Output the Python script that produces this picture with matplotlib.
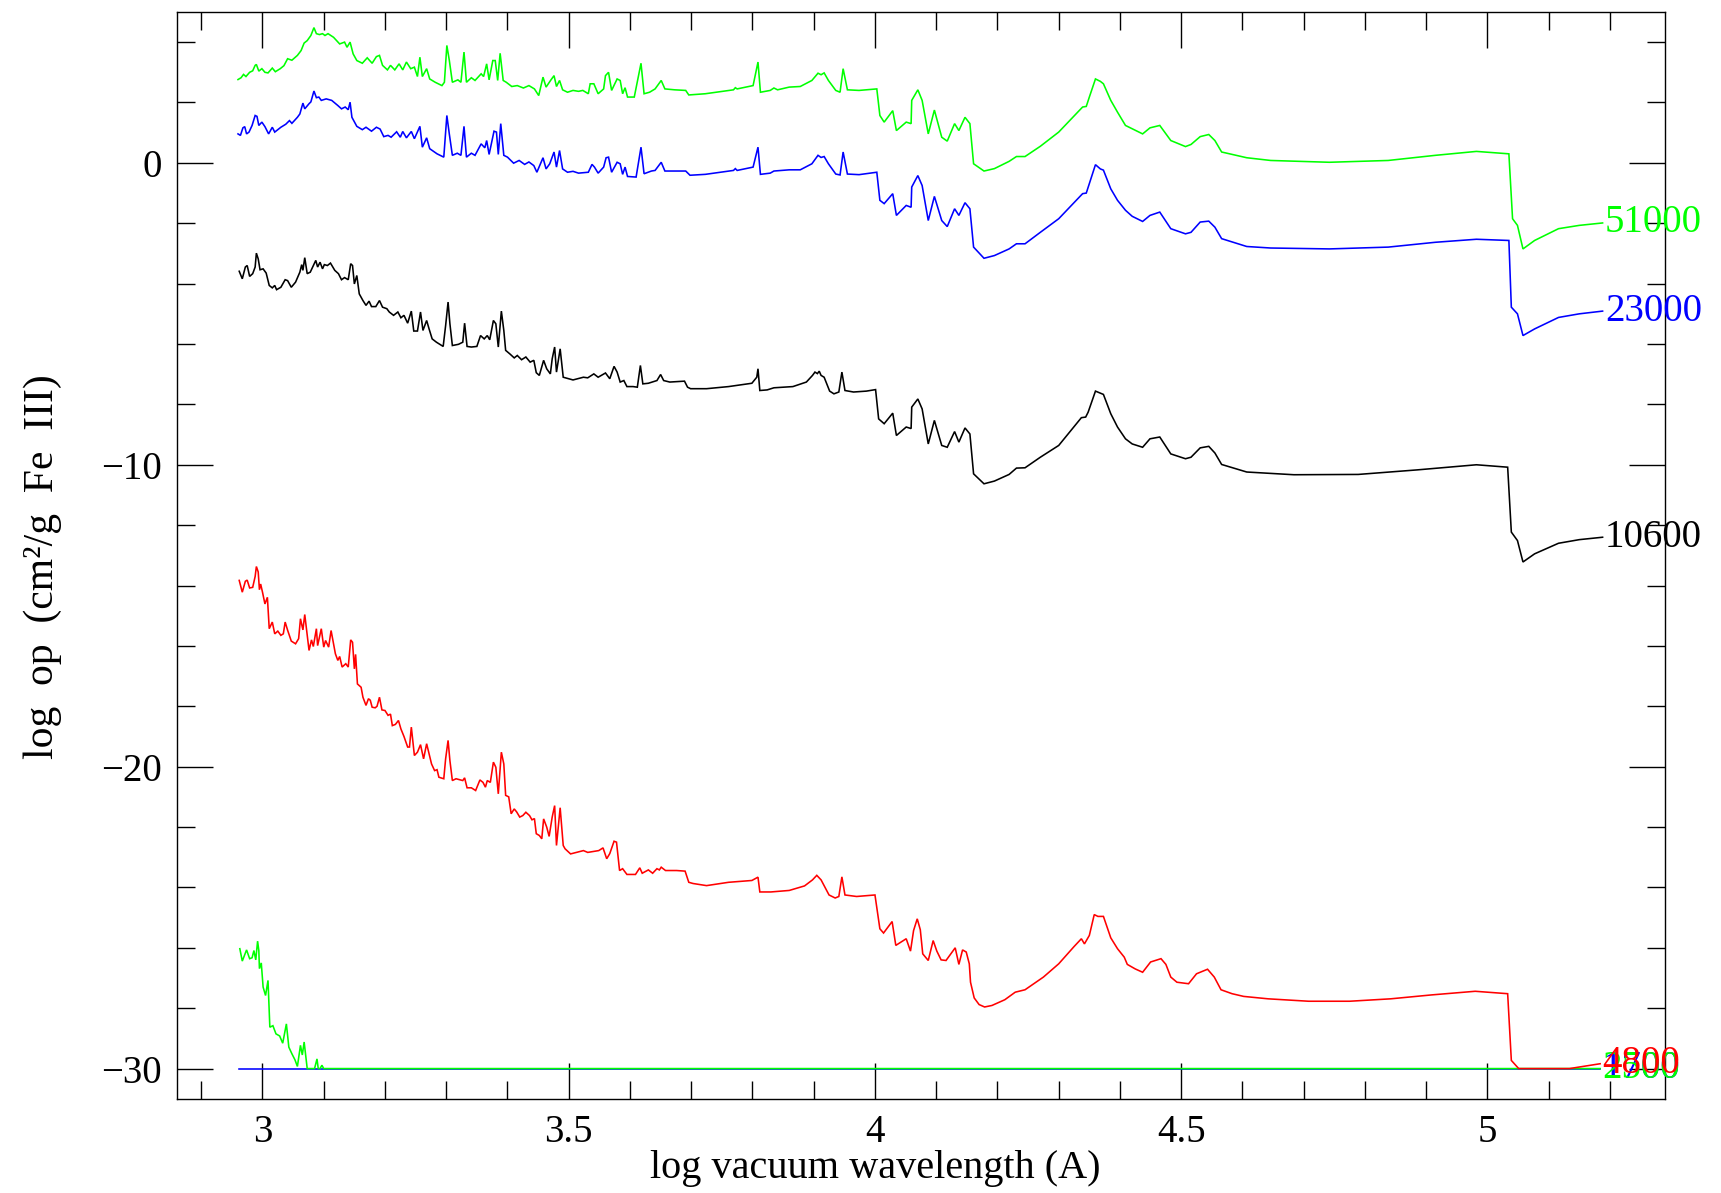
import matplotlib
matplotlib.use("Agg")
import matplotlib.pyplot as plt
from matplotlib.ticker import MultipleLocator

plt.rcParams['font.family'] = ['Liberation Serif', 'DejaVu Serif']

# ---------------- data (log wavelength, log opacity) ----------------
wl_51000 = [2.960, 2.965, 2.969, 2.973, 2.979, 2.984, 2.988, 2.990, 2.994, 2.999, 3.004, 3.009, 3.016, 3.021,
            3.029, 3.035, 3.041, 3.048, 3.057, 3.063, 3.068, 3.073, 3.079, 3.084, 3.088, 3.093, 3.098, 3.102,
            3.107, 3.116, 3.121, 3.126, 3.134, 3.138, 3.143, 3.148, 3.154, 3.163, 3.171, 3.179, 3.186, 3.191,
            3.196, 3.204, 3.209, 3.216, 3.223, 3.229, 3.235, 3.242, 3.248, 3.253, 3.257, 3.261, 3.268, 3.273,
            3.282, 3.293, 3.297, 3.301, 3.305, 3.310, 3.319, 3.324, 3.329, 3.333, 3.341, 3.347, 3.357, 3.361,
            3.366, 3.370, 3.376, 3.380, 3.384, 3.388, 3.393, 3.398, 3.407, 3.416, 3.426, 3.435, 3.444, 3.451,
            3.458, 3.463, 3.471, 3.476, 3.480, 3.485, 3.490, 3.498, 3.507, 3.516, 3.523, 3.532, 3.535, 3.541,
            3.548, 3.557, 3.560, 3.565, 3.570, 3.579, 3.584, 3.588, 3.592, 3.596, 3.607, 3.618, 3.623, 3.632,
            3.641, 3.651, 3.657, 3.673, 3.691, 3.696, 3.723, 3.769, 3.772, 3.775, 3.801, 3.809, 3.813, 3.829,
            3.835, 3.841, 3.860, 3.878, 3.897, 3.907, 3.912, 3.917, 3.924, 3.936, 3.943, 3.948, 3.955, 3.974,
            4.003, 4.008, 4.015, 4.029, 4.035, 4.051, 4.059, 4.060, 4.070, 4.077, 4.087, 4.097, 4.109, 4.118,
            4.130, 4.137, 4.147, 4.155, 4.161, 4.178, 4.195, 4.219, 4.231, 4.245, 4.270, 4.300, 4.339, 4.345,
            4.350, 4.360, 4.368, 4.373, 4.385, 4.396, 4.409, 4.420, 4.437, 4.449, 4.465, 4.483, 4.507, 4.516,
            4.531, 4.545, 4.555, 4.566, 4.607, 4.646, 4.742, 4.838, 4.915, 4.982, 5.035, 5.041, 5.049, 5.058,
            5.077, 5.116, 5.150, 5.188]
op_51000 = [2.76, 2.82, 2.93, 2.86, 3.00, 3.05, 3.23, 3.26, 3.04, 3.12, 3.00, 2.98, 3.14, 3.02,
            3.12, 3.22, 3.45, 3.40, 3.56, 3.72, 3.97, 4.05, 4.22, 4.48, 4.28, 4.25, 4.28, 4.22,
            4.28, 4.16, 4.05, 3.94, 4.00, 3.83, 4.00, 3.61, 3.39, 3.30, 3.48, 3.30, 3.52, 3.56,
            3.23, 3.08, 3.23, 3.08, 3.28, 3.08, 3.34, 3.12, 3.17, 2.86, 3.50, 2.86, 3.12, 2.78,
            2.67, 2.56, 2.67, 3.89, 3.40, 2.67, 2.75, 2.67, 3.67, 2.67, 2.82, 2.73, 2.95, 2.86,
            3.28, 2.75, 3.39, 3.39, 2.73, 3.63, 2.73, 2.67, 2.53, 2.56, 2.48, 2.56, 2.45, 2.23,
            2.84, 2.51, 2.75, 2.89, 2.53, 2.73, 2.42, 2.34, 2.40, 2.37, 2.40, 2.29, 2.62, 2.62,
            2.29, 2.45, 2.89, 3.00, 2.40, 2.78, 2.73, 2.29, 2.49, 2.18, 2.18, 3.30, 2.29, 2.34,
            2.45, 2.73, 2.45, 2.42, 2.40, 2.25, 2.29, 2.42, 2.49, 2.45, 2.56, 3.34, 2.34, 2.40,
            2.48, 2.42, 2.51, 2.53, 2.73, 2.97, 2.92, 2.98, 2.73, 2.40, 2.34, 3.12, 2.42, 2.40,
            2.45, 1.57, 1.35, 1.73, 1.07, 1.35, 1.30, 2.07, 2.42, 2.07, 0.96, 1.75, 0.85, 0.72,
            1.30, 1.07, 1.51, 1.30, -0.03, -0.27, -0.19, 0.05, 0.21, 0.21, 0.55, 1.02, 1.85, 1.87,
            2.18, 2.78, 2.70, 2.62, 2.07, 1.68, 1.24, 1.13, 0.96, 1.16, 1.24, 0.74, 0.54, 0.61,
            0.87, 0.94, 0.74, 0.36, 0.17, 0.08, 0.02, 0.08, 0.25, 0.38, 0.30, -1.85, -2.07, -2.85,
            -2.57, -2.18, -2.07, -1.99]

wl_23000 = [2.960, 2.964, 2.968, 2.971, 2.974, 2.978, 2.983, 2.988, 2.991, 2.994, 2.999, 3.004, 3.010, 3.016,
            3.020, 3.030, 3.038, 3.044, 3.048, 3.057, 3.061, 3.066, 3.069, 3.076, 3.079, 3.084, 3.088, 3.092,
            3.096, 3.104, 3.113, 3.123, 3.129, 3.135, 3.140, 3.143, 3.146, 3.154, 3.163, 3.169, 3.178, 3.186,
            3.192, 3.198, 3.205, 3.210, 3.219, 3.225, 3.229, 3.235, 3.243, 3.248, 3.257, 3.261, 3.268, 3.273,
            3.285, 3.296, 3.301, 3.305, 3.310, 3.318, 3.324, 3.329, 3.333, 3.341, 3.347, 3.357, 3.363, 3.366,
            3.370, 3.378, 3.382, 3.385, 3.389, 3.394, 3.400, 3.410, 3.419, 3.428, 3.435, 3.443, 3.448, 3.458,
            3.463, 3.469, 3.476, 3.480, 3.485, 3.490, 3.498, 3.507, 3.516, 3.532, 3.538, 3.542, 3.548, 3.557,
            3.561, 3.565, 3.570, 3.579, 3.584, 3.588, 3.592, 3.596, 3.610, 3.618, 3.623, 3.635, 3.641, 3.651,
            3.657, 3.691, 3.698, 3.723, 3.769, 3.772, 3.775, 3.801, 3.809, 3.813, 3.829, 3.835, 3.860, 3.878,
            3.897, 3.907, 3.912, 3.917, 3.924, 3.936, 3.943, 3.948, 3.955, 3.974, 4.003, 4.008, 4.015, 4.029,
            4.035, 4.051, 4.059, 4.060, 4.070, 4.077, 4.087, 4.097, 4.109, 4.118, 4.130, 4.137, 4.147, 4.155,
            4.161, 4.178, 4.195, 4.219, 4.231, 4.245, 4.270, 4.300, 4.339, 4.345, 4.350, 4.360, 4.368, 4.373,
            4.385, 4.396, 4.409, 4.420, 4.437, 4.449, 4.465, 4.483, 4.507, 4.516, 4.531, 4.545, 4.555, 4.566,
            4.607, 4.646, 4.742, 4.838, 4.915, 4.982, 5.035, 5.039, 5.049, 5.058, 5.077, 5.116, 5.150, 5.188]
op_23000 = [0.96, 0.91, 1.16, 1.20, 0.96, 1.02, 1.24, 1.57, 1.54, 1.24, 1.35, 1.20, 0.96, 1.18,
            1.02, 1.18, 1.28, 1.40, 1.31, 1.51, 1.62, 1.98, 1.79, 1.96, 2.02, 2.38, 2.16, 2.18,
            2.07, 2.12, 2.07, 1.90, 1.79, 1.85, 1.76, 2.01, 1.51, 1.21, 1.10, 1.18, 1.05, 1.18,
            1.12, 0.87, 0.91, 0.85, 1.03, 0.85, 1.04, 0.83, 1.04, 0.80, 1.21, 0.52, 0.83, 0.47,
            0.30, 0.19, 1.57, 0.96, 0.25, 0.32, 0.25, 1.21, 0.19, 0.32, 0.25, 0.63, 0.50, 0.74,
            0.28, 1.05, 1.02, 0.28, 1.30, 0.25, 0.19, -0.01, 0.08, -0.05, 0.03, -0.09, -0.31, 0.17,
            -0.20, -0.03, 0.36, -0.14, 0.41, -0.20, -0.31, -0.28, -0.34, -0.31, -0.05, -0.14, -0.34, -0.14,
            0.17, 0.19, -0.31, 0.02, -0.03, -0.38, -0.14, -0.45, -0.47, 0.52, -0.36, -0.27, -0.25, 0.02,
            -0.27, -0.27, -0.41, -0.38, -0.25, -0.19, -0.25, -0.14, 0.52, -0.38, -0.34, -0.27, -0.23, -0.23,
            -0.03, 0.25, 0.18, 0.21, -0.03, -0.37, -0.40, 0.36, -0.37, -0.39, -0.31, -1.24, -1.35, -1.02,
            -1.74, -1.41, -1.47, -0.80, -0.42, -0.75, -1.91, -1.11, -1.91, -2.11, -1.52, -1.74, -1.32, -1.52,
            -2.79, -3.16, -3.07, -2.85, -2.68, -2.68, -2.30, -1.85, -1.02, -1.00, -0.69, -0.06, -0.20, -0.24,
            -0.86, -1.24, -1.57, -1.77, -1.94, -1.74, -1.63, -2.18, -2.35, -2.30, -1.96, -1.93, -2.13, -2.51,
            -2.77, -2.82, -2.85, -2.79, -2.63, -2.53, -2.57, -4.78, -5.00, -5.72, -5.50, -5.12, -5.00, -4.91]

wl_10600 = [2.962, 2.967, 2.972, 2.975, 2.979, 2.984, 2.988, 2.990, 2.993, 2.996, 3.001, 3.006, 3.011, 3.016,
            3.020, 3.023, 3.030, 3.037, 3.041, 3.047, 3.054, 3.061, 3.064, 3.066, 3.069, 3.073, 3.078, 3.082,
            3.087, 3.090, 3.094, 3.098, 3.101, 3.106, 3.111, 3.118, 3.124, 3.129, 3.134, 3.140, 3.144, 3.147,
            3.150, 3.154, 3.158, 3.164, 3.169, 3.174, 3.178, 3.185, 3.191, 3.196, 3.203, 3.207, 3.214, 3.221,
            3.226, 3.231, 3.237, 3.243, 3.247, 3.253, 3.258, 3.262, 3.268, 3.272, 3.277, 3.284, 3.295, 3.299,
            3.303, 3.306, 3.310, 3.320, 3.327, 3.330, 3.334, 3.341, 3.350, 3.356, 3.362, 3.367, 3.371, 3.377,
            3.381, 3.385, 3.390, 3.394, 3.397, 3.404, 3.411, 3.416, 3.423, 3.430, 3.437, 3.443, 3.447, 3.452,
            3.459, 3.464, 3.470, 3.473, 3.477, 3.480, 3.486, 3.491, 3.507, 3.524, 3.531, 3.541, 3.548, 3.560,
            3.567, 3.574, 3.579, 3.584, 3.590, 3.595, 3.605, 3.612, 3.617, 3.621, 3.630, 3.644, 3.650, 3.655,
            3.665, 3.689, 3.694, 3.699, 3.725, 3.761, 3.799, 3.807, 3.809, 3.812, 3.824, 3.835, 3.866, 3.888,
            3.898, 3.902, 3.906, 3.909, 3.912, 3.917, 3.926, 3.933, 3.941, 3.946, 3.951, 3.965, 3.986, 4.001,
            4.006, 4.015, 4.029, 4.035, 4.051, 4.059, 4.060, 4.070, 4.077, 4.087, 4.097, 4.109, 4.118, 4.130,
            4.137, 4.147, 4.155, 4.161, 4.178, 4.195, 4.219, 4.231, 4.245, 4.270, 4.300, 4.337, 4.344, 4.348,
            4.360, 4.368, 4.373, 4.385, 4.396, 4.409, 4.420, 4.437, 4.449, 4.465, 4.483, 4.507, 4.516, 4.531,
            4.545, 4.555, 4.566, 4.607, 4.684, 4.789, 4.885, 4.982, 5.033, 5.039, 5.049, 5.058, 5.077, 5.116,
            5.150, 5.188]
op_10600 = [-3.59, -3.84, -3.45, -3.40, -3.76, -3.67, -3.45, -2.99, -3.18, -3.54, -3.51, -3.65, -4.06, -4.14,
            -4.06, -4.20, -4.12, -3.87, -3.90, -4.12, -3.95, -3.62, -3.37, -3.56, -3.14, -3.67, -3.62, -3.45,
            -3.23, -3.45, -3.29, -3.51, -3.37, -3.40, -3.32, -3.56, -3.67, -3.87, -3.80, -3.87, -3.34, -3.40,
            -4.01, -3.73, -4.34, -4.56, -4.72, -4.58, -4.76, -4.76, -4.56, -4.78, -4.83, -4.94, -5.05, -4.94,
            -5.13, -5.05, -5.31, -4.91, -5.57, -5.57, -4.94, -5.55, -5.22, -5.50, -5.83, -5.94, -6.08, -5.39,
            -4.61, -5.33, -6.05, -6.01, -5.94, -5.31, -6.08, -6.10, -6.08, -5.72, -5.83, -5.72, -5.86, -5.22,
            -5.33, -6.10, -4.91, -5.55, -6.21, -6.33, -6.46, -6.38, -6.52, -6.43, -6.60, -6.54, -6.95, -7.04,
            -6.54, -6.82, -6.99, -6.49, -6.10, -6.93, -6.16, -7.10, -7.19, -7.10, -7.12, -6.99, -7.10, -6.96,
            -7.15, -6.74, -6.93, -7.26, -7.21, -7.41, -7.41, -7.43, -6.71, -7.32, -7.30, -7.21, -7.01, -7.21,
            -7.26, -7.23, -7.43, -7.48, -7.48, -7.41, -7.30, -7.10, -6.82, -7.54, -7.52, -7.45, -7.41, -7.26,
            -7.04, -6.93, -6.98, -6.90, -7.04, -7.10, -7.56, -7.65, -7.59, -6.93, -7.54, -7.59, -7.56, -7.51,
            -8.48, -8.64, -8.29, -9.03, -8.75, -8.80, -8.09, -7.82, -8.15, -9.31, -8.53, -9.36, -9.42, -8.90,
            -9.25, -8.78, -8.98, -10.30, -10.63, -10.54, -10.32, -10.11, -10.10, -9.75, -9.36, -8.44, -8.42, -8.26,
            -7.56, -7.63, -7.67, -8.31, -8.75, -9.14, -9.31, -9.42, -9.14, -9.08, -9.64, -9.80, -9.75, -9.44,
            -9.39, -9.61, -9.99, -10.24, -10.33, -10.32, -10.17, -10.00, -10.08, -12.23, -12.51, -13.22, -12.95, -12.60,
            -12.48, -12.40]

wl_4800 = [2.962, 2.967, 2.972, 2.975, 2.979, 2.984, 2.988, 2.990, 2.993, 2.995, 2.997, 3.000, 3.004, 3.008,
           3.011, 3.016, 3.020, 3.025, 3.030, 3.034, 3.037, 3.041, 3.047, 3.054, 3.059, 3.062, 3.066, 3.069,
           3.073, 3.076, 3.080, 3.083, 3.088, 3.090, 3.096, 3.100, 3.103, 3.108, 3.112, 3.115, 3.119, 3.123,
           3.126, 3.130, 3.136, 3.140, 3.144, 3.147, 3.150, 3.152, 3.155, 3.161, 3.164, 3.169, 3.173, 3.176,
           3.179, 3.184, 3.187, 3.191, 3.195, 3.200, 3.205, 3.209, 3.212, 3.217, 3.222, 3.226, 3.231, 3.237,
           3.240, 3.243, 3.248, 3.253, 3.258, 3.263, 3.268, 3.272, 3.276, 3.281, 3.285, 3.288, 3.296, 3.299,
           3.303, 3.306, 3.310, 3.316, 3.327, 3.330, 3.334, 3.341, 3.348, 3.355, 3.360, 3.364, 3.367, 3.372,
           3.377, 3.381, 3.385, 3.390, 3.394, 3.397, 3.402, 3.406, 3.411, 3.415, 3.420, 3.425, 3.430, 3.436,
           3.440, 3.444, 3.447, 3.452, 3.456, 3.459, 3.464, 3.468, 3.473, 3.477, 3.480, 3.486, 3.491, 3.494,
           3.503, 3.524, 3.531, 3.549, 3.556, 3.562, 3.567, 3.574, 3.578, 3.583, 3.588, 3.595, 3.609, 3.616,
           3.620, 3.630, 3.637, 3.644, 3.648, 3.651, 3.658, 3.676, 3.690, 3.696, 3.703, 3.725, 3.761, 3.799,
           3.809, 3.812, 3.830, 3.860, 3.885, 3.898, 3.905, 3.912, 3.925, 3.935, 3.941, 3.946, 3.951, 3.970,
           4.000, 4.008, 4.014, 4.028, 4.034, 4.051, 4.058, 4.063, 4.069, 4.074, 4.078, 4.087, 4.095, 4.101,
           4.108, 4.116, 4.131, 4.137, 4.143, 4.149, 4.154, 4.156, 4.162, 4.170, 4.179, 4.191, 4.212, 4.229,
           4.245, 4.275, 4.300, 4.325, 4.337, 4.342, 4.350, 4.358, 4.364, 4.373, 4.385, 4.396, 4.407, 4.412,
           4.425, 4.437, 4.450, 4.467, 4.475, 4.483, 4.493, 4.512, 4.525, 4.543, 4.554, 4.565, 4.583, 4.602,
           4.642, 4.708, 4.775, 4.842, 4.909, 4.980, 5.033, 5.039, 5.051, 5.134, 5.184]
op_4800 = [-13.83, -14.22, -13.86, -13.82, -14.08, -14.06, -13.70, -13.37, -13.55, -14.14, -13.95, -14.22, -14.61, -14.39,
           -15.43, -15.21, -15.60, -15.51, -15.65, -15.60, -15.21, -15.48, -15.84, -15.93, -15.76, -15.10, -15.47, -14.96,
           -15.65, -16.15, -15.80, -16.02, -15.43, -15.99, -15.43, -16.04, -15.82, -16.04, -15.49, -15.82, -16.26, -16.48,
           -16.35, -16.70, -16.59, -16.70, -15.80, -15.88, -16.76, -16.28, -17.26, -17.37, -17.70, -17.97, -17.75, -17.80,
           -18.03, -18.05, -18.00, -17.70, -18.12, -18.14, -18.30, -18.26, -18.64, -18.60, -18.47, -18.75, -19.00, -19.35,
           -19.35, -18.69, -19.63, -19.52, -19.27, -19.74, -19.24, -19.57, -19.91, -20.13, -20.10, -20.35, -20.40, -19.74,
           -19.13, -19.80, -20.46, -20.40, -20.46, -20.37, -20.70, -20.70, -20.79, -20.44, -20.52, -20.68, -20.46, -20.52,
           -19.85, -20.02, -20.90, -19.52, -19.91, -20.95, -21.00, -21.56, -21.40, -21.50, -21.67, -21.62, -21.51, -21.62,
           -21.76, -21.72, -22.22, -22.28, -22.39, -21.73, -22.00, -22.31, -21.67, -21.29, -22.61, -21.36, -22.61, -22.72,
           -22.89, -22.78, -22.84, -22.78, -22.69, -23.05, -22.88, -22.47, -22.50, -23.44, -23.38, -23.57, -23.57, -23.35,
           -23.53, -23.42, -23.53, -23.38, -23.42, -23.33, -23.44, -23.44, -23.46, -23.83, -23.87, -23.94, -23.83, -23.77,
           -23.66, -24.15, -24.15, -24.10, -23.95, -23.75, -23.60, -23.75, -24.25, -24.35, -24.30, -23.65, -24.25, -24.30,
           -24.25, -25.37, -25.51, -25.13, -25.92, -25.70, -26.11, -25.43, -25.04, -25.40, -26.20, -26.42, -25.76, -26.11,
           -26.40, -26.42, -26.00, -26.55, -26.07, -26.14, -26.53, -27.14, -27.66, -27.88, -27.96, -27.91, -27.72, -27.47,
           -27.39, -26.97, -26.53, -25.96, -25.70, -25.87, -25.59, -24.90, -24.96, -24.96, -25.67, -26.03, -26.31, -26.55,
           -26.70, -26.81, -26.47, -26.36, -26.55, -26.97, -27.14, -27.19, -26.86, -26.71, -26.97, -27.39, -27.52, -27.61,
           -27.69, -27.77, -27.77, -27.69, -27.56, -27.44, -27.52, -29.73, -30.00, -30.00, -29.84]

wl_2500 = [2.963, 2.967, 2.974, 2.979, 2.983, 2.986, 2.989, 2.992, 2.994, 2.995, 2.998, 3.001, 3.005, 3.009,
           3.012, 3.017, 3.022, 3.028, 3.033, 3.039, 3.043, 3.048, 3.053, 3.057, 3.062, 3.065, 3.068, 3.073,
           3.085, 3.089, 3.091, 3.094, 3.097, 3.100, 5.184]
op_2500 = [-26.03, -26.44, -26.07, -26.36, -26.33, -26.09, -26.40, -25.78, -26.09, -26.69, -26.50, -27.30, -27.58, -27.08,
           -28.63, -28.58, -28.85, -28.92, -29.16, -28.52, -29.29, -29.51, -29.71, -29.93, -29.23, -29.55, -29.12, -30.00,
           -30.00, -29.68, -30.00, -30.00, -29.89, -30.00, -30.00]

wl_1700 = [2.962, 5.184]
op_1700 = [-30.00, -30.00]

labels = ["1700", "2500", "4800", "10600", "23000", "51000"]
series_x = [wl_1700, wl_2500, wl_4800, wl_10600, wl_23000, wl_51000]
series_y = [op_1700, op_2500, op_4800, op_10600, op_23000, op_51000]
colors = ["#0000ff", "#00ff00", "#ff0000", "#000000", "#0000ff", "#00ff00"]

# ---------------- figure ----------------
fig = plt.figure(figsize=(17.21, 11.93), dpi=100)
ax = fig.add_axes([0.1027, 0.0790, 0.8648, 0.9110])

for xs, ys, c, lab in zip(series_x, series_y, colors, labels):
    ax.plot(xs, ys, color=c, lw=1.15, solid_joinstyle='miter')
    ax.text(xs[-1] + 0.004, ys[-1], lab, color=c, fontsize=28,
            ha='left', va='center', clip_on=False)

ax.set_xlim(2.86, 5.29)
ax.set_ylim(-31.0, 5.0)

ax.xaxis.set_major_locator(MultipleLocator(0.5))
ax.xaxis.set_minor_locator(MultipleLocator(0.1))
ax.yaxis.set_major_locator(MultipleLocator(10))
ax.yaxis.set_minor_locator(MultipleLocator(2))
ax.xaxis.set_major_formatter(plt.FuncFormatter(lambda v, p: ('%g' % v)))
ax.yaxis.set_major_formatter(plt.FuncFormatter(lambda v, p: ('%g' % v).replace('-', '\u2212')))

ax.tick_params(which='both', direction='in', top=True, right=True, width=1.0, colors='black')
ax.tick_params(which='major', length=26, labelsize=28, pad=11)
ax.tick_params(which='minor', length=13)
for s in ax.spines.values():
    s.set_linewidth(1.0)

ax.set_xlabel("log vacuum wavelength (A)", fontsize=29)
ax.xaxis.set_label_coords(0.469, -0.047)
ax.set_ylabel("log  op  (cm\u00b2/g  Fe  III)", fontsize=30)
ax.yaxis.set_label_coords(-0.077, 0.49)

fig.savefig("out.png", dpi=100)
